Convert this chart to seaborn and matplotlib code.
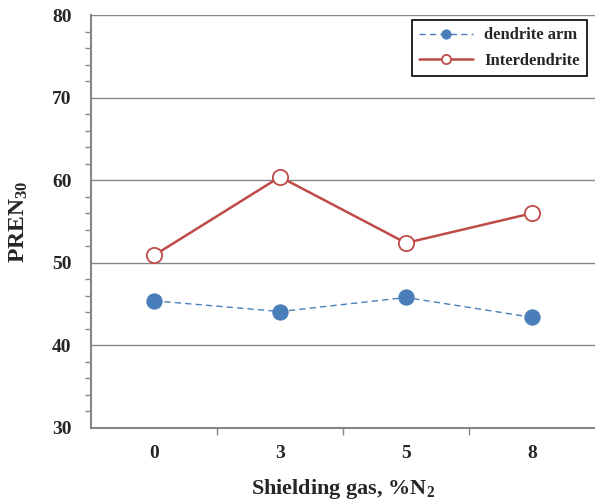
import matplotlib
matplotlib.use("Agg")
import matplotlib.pyplot as plt
import seaborn as sns
import pandas as pd
from matplotlib.ticker import MultipleLocator, FixedLocator

# data
gas_n2 = ["0", "3", "5", "8"]
dendrite_arm = [45.4, 44.1, 45.8, 43.4]
interdendrite = [50.9, 60.4, 52.4, 56.0]

df = pd.DataFrame({"gas": gas_n2, "dendrite arm": dendrite_arm, "Interdendrite": interdendrite})

sns.set_style("white")
plt.rcParams["font.family"] = ["Liberation Serif", "DejaVu Serif"]
plt.rcParams["font.weight"] = "bold"
plt.rcParams["mathtext.fontset"] = "custom"
plt.rcParams["mathtext.rm"] = "Liberation Serif:bold"
plt.rcParams["mathtext.bf"] = "Liberation Serif:bold"
plt.rcParams["mathtext.it"] = "Liberation Serif:bold"

blue = "#4A7EBB"
red = "#BE4B48"
grey = "#868686"

fig = plt.figure(figsize=(5.95, 5.0), dpi=100)
ax = fig.add_axes([0.153, 0.144, 0.847, 0.826])

sns.lineplot(data=df, x="gas", y="dendrite arm", ax=ax, color=blue, linestyle=(0, (4.5, 3)),
             linewidth=1.0, marker="o", markersize=11, markerfacecolor=blue,
             markeredgecolor=blue, label="dendrite arm", sort=False)
sns.lineplot(data=df, x="gas", y="Interdendrite", ax=ax, color=red, linewidth=1.8,
             marker="o", markersize=11, markerfacecolor="white", markeredgecolor=red,
             markeredgewidth=1.3, label="Interdendrite", sort=False)

ax.set_xlim(-0.5, 3.5)
ax.set_ylim(30, 80)
ax.yaxis.set_major_locator(MultipleLocator(10))
ax.yaxis.set_minor_locator(MultipleLocator(2))
ax.grid(axis="y", which="major", color=grey, linewidth=1.0)
ax.xaxis.set_minor_locator(FixedLocator([0.5, 1.5, 2.5]))

for s in ["top", "right"]:
    ax.spines[s].set_visible(False)
for s in ["left", "bottom"]:
    ax.spines[s].set_color(grey)
    ax.spines[s].set_linewidth(1.5)

ax.tick_params(axis="y", which="major", direction="out", length=6, width=1, color=grey,
               labelsize=14, pad=8)
ax.tick_params(axis="y", which="minor", direction="out", length=4, width=1, color=grey, left=True)
ax.tick_params(axis="x", which="major", length=0, labelsize=14, pad=12)
ax.tick_params(axis="x", which="minor", direction="out", length=5, width=1, color=grey, bottom=True)
for lab in ax.get_xticklabels() + ax.get_yticklabels():
    lab.set_fontweight("bold")

ax.set_xlabel("Shielding gas, %N$_{2}$", fontsize=16, fontweight="bold", labelpad=11)
ax.set_ylabel("PREN$_{30}$", fontsize=17, fontweight="bold", labelpad=16)

leg = ax.legend(loc="upper right", bbox_to_anchor=(0.985, 0.988), borderaxespad=0,
                fancybox=False, frameon=True,
                edgecolor="black", prop={"weight": "bold", "size": 12}, handlelength=3.2,
                borderpad=0.45, labelspacing=0.55, framealpha=1, markerscale=0.6,
                handletextpad=0.7)
leg.get_frame().set_linewidth(1.2)

fig.savefig("out.png", dpi=100)
